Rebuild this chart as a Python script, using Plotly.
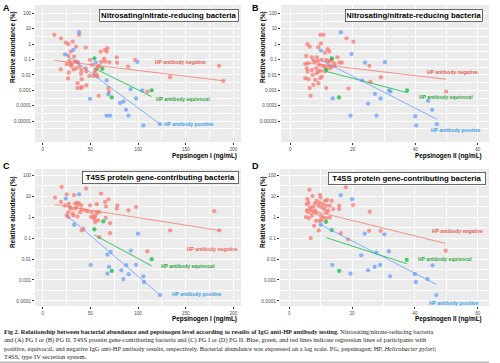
import plotly.graph_objects as go

# ---------------- data ----------------
# Panel A: Nitrosating/nitrate-reducing bacteria vs Pepsinogen I
A_neg_x = [12.2, 19.2, 24.1, 26.9, 31.5, 38.1, 35.0, 45.1, 29.4, 32.9, 26.9, 28.0, 33.6, 35.7, 37.1, 38.5,
           28.7, 30.4, 25.2, 18.9, 27.3, 29.7, 35.0, 40.6, 45.1, 40.2, 40.9, 36.7, 40.9, 36.4, 40.2, 45.8,
           26.6, 45.5, 49.7, 51.7, 49.0, 53.1, 55.2, 56.6, 58.0, 59.4, 54.5, 56.3, 60.8, 61.2, 65.4, 67.8,
           64.3, 65.4, 69.9, 67.1, 58.7, 68.9, 69.6, 77.6, 78.0, 89.5, 96.9, 109.8, 133.6, 185.0, 189.5,
           57.3, 32.2]
A_neg_y = [4.0, 2.4, 1.26, 1.0, 1.45, 4.0, 0.69, 0.60, 0.33, 0.155, 0.17, 0.085, 0.074, 0.074, 0.063, 0.035,
           0.057, 0.045, 0.05, 0.023, 0.014, 0.039, 0.027, 0.021, 0.027, 0.012, 0.0053, 0.0029, 0.0016, 0.0014,
           0.0014, 0.0021, 0.0059, 0.017, 0.095, 0.045, 0.0087, 0.0087, 0.021, 0.027, 0.035, 0.037, 0.014,
           0.010, 0.33, 0.07, 0.42, 0.54, 0.11, 0.074, 0.067, 0.33, 0.00044, 0.0014, 0.00084, 0.14, 0.063,
           0.035, 0.095, 0.00084, 0.0071, 0.039, 0.0041, 0.0079, 0.023]
A_eq_x = [54.2, 62.6, 114.3, 72.4]
A_eq_y = [0.12, 0.025, 0.001, 0.00035]
A_pos_x = [38.1, 32.2, 23.4, 55.6, 99.3, 67.1, 49.7, 68.9, 67.1, 70.6, 81.1, 84.6, 87.4, 89.9, 92.3, 97.9,
           104.5, 105.6, 123.1]
A_pos_y = [5.9, 0.42, 0.22, 0.063, 0.07, 0.0044, 0.00028, 0.00056, 2.3e-5, 2.3e-5, 0.00015, 0.00019, 5.5e-5,
           2.3e-5, 0.0012, 0.0003, 0.001, 5.3e-6, 6.4e-6]
A_neg_line_x, A_neg_line_y = [12.2, 189.5], [0.089, 0.0042]
A_eq_line_x, A_eq_line_y = [54.2, 114.3], [0.027, 0.0004]
A_pos_line_x, A_pos_line_y = [23.4, 123.1], [0.24, 6.4e-6]

# Panel B: Nitrosating/nitrate-reducing bacteria vs Pepsinogen II
B_neg_x = [5.5, 6.2, 9.6, 10.6, 9.8, 9.0, 11.1, 12.0, 12.5, 5.1, 6.9, 8.5, 4.8, 5.8, 7.4, 8.0, 9.0, 10.1,
           11.5, 11.9, 12.7, 13.3, 14.0, 15.1, 15.7, 16.5, 9.3, 10.4, 11.1, 12.2, 13.3, 14.3, 5.3, 6.9, 8.3,
           9.0, 9.8, 11.1, 12.7, 5.5, 4.8, 5.8, 7.2, 8.5, 8.0, 9.6, 10.1, 6.2, 7.4, 9.0, 11.5, 6.5, 18.0,
           20.2, 25.3, 29.0, 25.7, 18.6, 49.9]
B_neg_y = [1.0, 0.69, 4.0, 4.0, 1.1, 0.63, 0.28, 0.47, 0.33, 0.17, 0.14, 0.14, 0.052, 0.057, 0.085, 0.074,
           0.081, 0.095, 0.095, 0.074, 0.081, 0.095, 0.057, 0.14, 0.063, 0.063, 0.045, 0.039, 0.035, 0.041,
           0.035, 0.039, 0.027, 0.021, 0.027, 0.017, 0.019, 0.017, 0.027, 0.017, 0.0062, 0.0053, 0.010, 0.013,
           0.0048, 0.0062, 0.0079, 0.0014, 0.0023, 0.0029, 0.0014, 0.00044, 2.4, 1.45, 0.039, 0.0071, 0.0037,
           0.0013, 0.00084]
B_eq_x = [13.3, 11.5, 15.6, 37.4]
B_eq_y = [0.12, 0.023, 0.00035, 0.00098]
B_pos_x = [16.2, 9.8, 19.6, 23.9, 30.3, 23.0, 27.1, 28.9, 13.6, 24.9, 31.6, 32.1, 19.3, 27.6, 44.1, 45.4,
           40.0, 40.3, 46.9]
B_pos_y = [5.9, 0.38, 0.23, 0.063, 0.067, 0.0044, 0.00059, 0.0003, 0.0003, 0.00014, 0.00098, 0.00084,
           2.3e-5, 2.3e-5, 0.00021, 5.5e-5, 2.1e-5, 5.3e-6, 6.4e-6]
B_neg_line_x, B_neg_line_y = [4.8, 49.9], [0.062, 0.0053]
B_eq_line_x, B_eq_line_y = [11.5, 37.4], [0.017, 0.00072]
B_pos_line_x, B_pos_line_y = [9.8, 46.9], [0.095, 1.35e-5]

# Panel C: T4SS protein gene-contributing bacteria vs Pepsinogen I
C_neg_x = [12.9, 19.9, 19.2, 25.2, 23.4, 27.3, 28.3, 29.7, 26.9, 25.2, 31.5, 33.9, 35.7, 36.4, 38.1, 40.2,
           33.9, 40.9, 39.2, 32.2, 36.4, 26.9, 45.5, 32.9, 44.4, 46.9, 40.9, 42.7, 49.7, 51.4, 50.7, 56.6,
           56.6, 55.6, 61.2, 59.1, 54.9, 58.0, 54.2, 53.1, 65.4, 68.9, 66.4, 66.1, 70.6, 70.6, 78.3, 77.6,
           89.9, 97.9, 59.4, 109.8, 133.6, 180.0, 185.3]
C_neg_y = [8.5, 27, 5.2, 12, 3.6, 4.3, 3.0, 2.5, 1.7, 1.2, 1.45, 4.4, 3.0, 4.9, 4.4, 3.6, 2.5, 2.3, 1.7, 1.2,
           1.07, 1.0, 23, 11, 2.1, 1.9, 0.23, 0.27, 3.6, 1.7, 1.0, 4.1, 1.7, 1.2, 13, 1.7, 0.58, 0.69, 0.83,
           1.07, 5.2, 6.8, 3.2, 0.91, 0.51, 0.17, 3.6, 2.5, 2.1, 3.0, 0.11, 0.023, 0.23, 1.9, 0.23]
C_eq_x = [63.6, 54.2, 72.4, 114.3]
C_eq_y = [0.62, 0.26, 0.0027, 0.0098]
C_pos_x = [24.1, 38.1, 32.9, 100.0, 71.3, 92.3, 50.3, 69.6, 67.8, 67.8, 87.4, 82.5, 90.2, 84.6, 97.9, 105.6,
           106.3, 123.1]
C_pos_y = [7.6, 12, 0.43, 0.16, 0.022, 0.025, 0.0052, 0.0042, 0.016, 0.002, 0.0051, 0.0029, 0.0019, 0.0011,
           0.0053, 0.0015, 0.0008, 0.00019]
C_neg_line_x, C_neg_line_y = [12.9, 185.3], [3.9, 0.23]
C_eq_line_x, C_eq_line_y = [54.2, 114.3], [0.14, 0.0047]
C_pos_line_x, C_pos_line_y = [24.1, 123.1], [1.33, 0.00019]

# Panel D: T4SS protein gene-contributing bacteria vs Pepsinogen II
D_neg_x = [6.4, 7.4, 5.8, 6.1, 5.6, 6.6, 5.6, 6.1, 5.3, 7.2, 8.7, 9.8, 10.0, 9.3, 10.6, 11.4, 12.1, 11.7,
           12.9, 11.1, 12.4, 8.2, 7.5, 8.7, 10.0, 10.8, 9.6, 8.5, 9.4, 6.8, 11.7, 12.9, 14.0, 15.9, 15.9, 18.0,
           20.3, 16.4, 18.7, 25.6, 25.4, 29.1, 49.8, 7.7, 10.3, 6.8, 8.2, 11.9, 13.5, 9.6, 6.2, 10.2, 7.9]
D_neg_y = [20, 10, 7.1, 4.9, 4.1, 2.9, 2.0, 1.7, 1.0, 1.15, 5.9, 11.5, 8.5, 3.5, 4.1, 5.9, 6.5, 3.5, 3.5,
           2.4, 2.0, 2.0, 1.7, 1.5, 1.15, 0.96, 0.66, 0.66, 0.23, 0.098, 0.89, 0.96, 2.4, 3.5, 2.4, 26, 3.7,
           0.17, 0.087, 1.8, 0.22, 0.22, 0.025, 3.1, 2.9, 2.4, 4.5, 1.7, 5.9, 4.9, 0.89, 0.71, 0.38]
D_eq_x = [11.7, 13.5, 15.9, 37.4]
D_eq_y = [0.59, 0.24, 0.0027, 0.0091]
D_pos_x = [16.4, 20.0, 10.0, 24.0, 30.3, 13.7, 19.5, 22.9, 25.1, 27.2, 28.9, 27.7, 31.7, 32.1, 40.0, 40.3,
           44.0, 45.6, 46.8]
D_pos_y = [11, 7.1, 0.43, 0.16, 0.15, 0.0052, 0.002, 0.015, 0.0029, 0.0042, 0.0052, 0.020, 0.023, 0.0015,
           0.0019, 0.0008, 0.0011, 0.005, 0.00019]
D_neg_line_x, D_neg_line_y = [5.3, 49.8], [2.4, 0.055]
D_eq_line_x, D_eq_line_y = [11.7, 37.4], [0.105, 0.006]
D_pos_line_x, D_pos_line_y = [10.0, 46.8], [0.43, 0.00062]

# tick labels / text
X_TICKS_PG1 = [0, 50, 100, 150, 200]
X_TICKS_PG2 = [0, 20, 40, 60]
Y_TICKS_TOP = [100, 10, 1, 0.1, 0.01, 0.001, 0.0001, 0.00001]
Y_TICKTEXT_TOP = ["100", "10", "1", "0.1", "0.01", "0.001", "0.0001", "0.00001"]
Y_TICKS_BOT = [100, 10, 1, 0.1, 0.01, 0.001, 0.0001]
Y_TICKTEXT_BOT = ["100", "10", "1", "0.1", "0.01", "0.001", "0.0001"]
GROUP_LABELS = ["HP antibody negative", "HP antibody equivocal", "HP antibody positive"]
TITLE_NR = "Nitrosating/nitrate-reducing bacteria"
TITLE_T4 = "T4SS protein gene-contributing bacteria"
XTITLE_1 = "Pepsinogen I (ng/mL)"
XTITLE_2 = "Pepsinogen II (ng/mL)"
YTITLE = "Relative abundance (%)"
CAPTION = [
    "<b>Fig 2. Relationship between bacterial abundance and pepsinogen level according to results of IgG anti-HP antibody testing.</b> Nitrosating/nitrate-reducing bacteria",
    "and (A) PG I or (B) PG II. T4SS protein gene-contributing bacteria and (C) PG I or (D) PG II. Blue, green, and red lines indicate regression lines of participants with",
    "positive, equivocal, and negative IgG anti-HP antibody results, respectively. Bacterial abundance was expressed on a log scale. PG, pepsinogen; HP, <i>Helicobacter pylori</i>;",
    "T4SS, type IV secretion system.",
]

# ---------------- styling ----------------
W, H = 500, 363
SANS = "Liberation Sans, Arial, sans-serif"
SERIF = "Liberation Serif, Times New Roman, serif"
PT_COL = ["#F8766D", "#00BA38", "#619CFF"]
TXT_COL = ["#E5605A", "#2AA43C", "#3A9FE4"]


def fx(p):
    return p / W


def fy(p):
    return 1 - p / H


panels = [
    dict(letter="A", letter_xy=(6, 8), n=1, xdom=(35, 241), ydom=(5, 142), xr=[-8.1, 208], yr=[-6.35, 2.54],
         xt=X_TICKS_PG1, xminor=[25, 75, 125, 175], yt=Y_TICKS_TOP, ytt=Y_TICKTEXT_TOP,
         title=TITLE_NR, tbox=(239, 9, 136), xtitle=XTITLE_1, xtitle_xy=(238.5, 156), ytitle_xy=(13, 47),
         groups=[(A_neg_x, A_neg_y, A_neg_line_x, A_neg_line_y),
                 (A_eq_x, A_eq_y, A_eq_line_x, A_eq_line_y),
                 (A_pos_x, A_pos_y, A_pos_line_x, A_pos_line_y)],
         labels=[(145, -1.15), (147.6, -3.55), (153.8, -5.19)]),
    dict(letter="B", letter_xy=(255, 8), n=2, xdom=(281, 489), ydom=(5, 142), xr=[-2.96, 63.6], yr=[-6.35, 2.54],
         xt=X_TICKS_PG2, xminor=[10, 30, 50], yt=Y_TICKS_TOP, ytt=Y_TICKTEXT_TOP,
         title=TITLE_NR, tbox=(483, 9, 134), xtitle=XTITLE_2, xtitle_xy=(484, 156), ytitle_xy=(263, 47),
         groups=[(B_neg_x, B_neg_y, B_neg_line_x, B_neg_line_y),
                 (B_eq_x, B_eq_y, B_eq_line_x, B_eq_line_y),
                 (B_pos_x, B_pos_y, B_pos_line_x, B_pos_line_y)],
         labels=[(52, -1.80), (49.9, -3.40), (53.1, -5.56)]),
    dict(letter="C", letter_xy=(6, 166), n=3, xdom=(35, 241), ydom=(169, 306), xr=[-8.1, 208], yr=[-4.24, 2.29],
         xt=X_TICKS_PG1, xminor=[25, 75, 125, 175], yt=Y_TICKS_BOT, ytt=Y_TICKTEXT_BOT,
         title=TITLE_T4, tbox=(239, 171, 153), xtitle=XTITLE_1, xtitle_xy=(238.5, 319), ytitle_xy=(13, 212),
         groups=[(C_neg_x, C_neg_y, C_neg_line_x, C_neg_line_y),
                 (C_eq_x, C_eq_y, C_eq_line_x, C_eq_line_y),
                 (C_pos_x, C_pos_y, C_pos_line_x, C_pos_line_y)],
         labels=[(178.3, -1.53), (152.8, -2.33), (161.5, -3.66)]),
    dict(letter="D", letter_xy=(255, 166), n=4, xdom=(280, 489), ydom=(169, 306), xr=[-2.96, 63.6], yr=[-4.24, 2.29],
         xt=X_TICKS_PG2, xminor=[10, 30, 50], yt=Y_TICKS_BOT, ytt=Y_TICKTEXT_BOT,
         title=TITLE_T4, tbox=(486, 172, 154), xtitle=XTITLE_2, xtitle_xy=(484, 319), ytitle_xy=(263, 212),
         groups=[(D_neg_x, D_neg_y, D_neg_line_x, D_neg_line_y),
                 (D_eq_x, D_eq_y, D_eq_line_x, D_eq_line_y),
                 (D_pos_x, D_pos_y, D_pos_line_x, D_pos_line_y)],
         labels=[(53.5, -0.66), (49.5, -1.98), (52.4, -4.11)]),
]

fig = go.Figure()
annotations = []
layout = {}

for p in panels:
    n = p["n"]
    xa = "x" if n == 1 else f"x{n}"
    ya = "y" if n == 1 else f"y{n}"
    for gi, (gx, gy, lx, ly) in enumerate(p["groups"]):
        fig.add_trace(go.Scatter(x=gx, y=gy, mode="markers", xaxis=xa, yaxis=ya, showlegend=False,
                                 marker=dict(size=4.3, color=PT_COL[gi], opacity=0.72, line=dict(width=0)),
                                 hoverinfo="skip"))
    for gi, (gx, gy, lx, ly) in enumerate(p["groups"]):
        fig.add_trace(go.Scatter(x=lx, y=ly, mode="lines", xaxis=xa, yaxis=ya, showlegend=False,
                                 line=dict(color=PT_COL[gi], width=0.9), opacity=0.85, hoverinfo="skip"))

    minor_y = [10 ** (k + 0.5) for k in range(-8, 3)]
    layout["xaxis" if n == 1 else f"xaxis{n}"] = dict(
        domain=[fx(p["xdom"][0]), fx(p["xdom"][1])], range=p["xr"], anchor=ya,
        tickmode="array", tickvals=p["xt"], ticktext=[str(v) for v in p["xt"]],
        showgrid=True, gridcolor="white", gridwidth=0.9, zeroline=False, showline=False,
        ticks="outside", ticklen=2, tickwidth=0.7, tickcolor="#333333",
        tickfont=dict(family=SANS, size=4.6, color="#4D4D4D"),
        minor=dict(tickmode="array", tickvals=p["xminor"], showgrid=True, gridcolor="white", gridwidth=0.45),
    )
    layout["yaxis" if n == 1 else f"yaxis{n}"] = dict(
        domain=[fy(p["ydom"][1]), fy(p["ydom"][0])], range=p["yr"], type="log", anchor=xa,
        tickmode="array", tickvals=p["yt"], ticktext=p["ytt"],
        showgrid=True, gridcolor="white", gridwidth=0.9, zeroline=False, showline=False,
        ticks="outside", ticklen=2, tickwidth=0.7, tickcolor="#333333",
        tickfont=dict(family=SANS, size=4.8, color="#4D4D4D"),
        minor=dict(tickmode="array", tickvals=minor_y, showgrid=True, gridcolor="white", gridwidth=0.45),
    )

    for gi, (lxv, lyv) in enumerate(p["labels"]):
        annotations.append(dict(x=lxv, y=lyv, xref=xa, yref=ya, text=f"<b>{GROUP_LABELS[gi]}</b>",
                                showarrow=False, xanchor="center", yanchor="middle",
                                font=dict(family=SANS, size=5, color=TXT_COL[gi])))
    bx, by, bw = p["tbox"]
    annotations.append(dict(x=fx(bx), y=fy(by), xref="paper", yref="paper", xanchor="right", yanchor="top",
                            text=f"<b>{p['title']}</b>", showarrow=False, width=bw, align="center",
                            font=dict(family=SANS, size=7.8, color="black"),
                            bgcolor="white", bordercolor="#444444", borderwidth=0.8, borderpad=1))
    lx0, ly0 = p["letter_xy"]
    annotations.append(dict(x=fx(lx0), y=fy(ly0), xref="paper", yref="paper", xanchor="center", yanchor="middle",
                            text=f"<b>{p['letter']}</b>", showarrow=False,
                            font=dict(family=SANS, size=9, color="black")))
    tx, ty = p["xtitle_xy"]
    annotations.append(dict(x=fx(tx), y=fy(ty), xref="paper", yref="paper", xanchor="right", yanchor="middle",
                            text=f"<b>{p['xtitle']}</b>", showarrow=False,
                            font=dict(family=SANS, size=6.4, color="black")))
    yx, yy = p["ytitle_xy"]
    annotations.append(dict(x=fx(yx), y=fy(yy), xref="paper", yref="paper", xanchor="center", yanchor="middle",
                            text=f"<b>{YTITLE}</b>", showarrow=False, textangle=-90,
                            font=dict(family=SANS, size=6.4, color="black")))

cap_y = [331, 339.5, 348, 356.5]
for line, cy in zip(CAPTION, cap_y):
    annotations.append(dict(x=fx(2), y=fy(cy), xref="paper", yref="paper", xanchor="left", yanchor="middle",
                            text=line, showarrow=False, align="left",
                            font=dict(family=SERIF, size=6.4, color="#222222")))

fig.update_layout(
    width=W, height=H, margin=dict(l=0, r=0, t=0, b=0),
    paper_bgcolor="white", plot_bgcolor="#EBEBEB",
    annotations=annotations,
    shapes=[dict(type="rect", xref="paper", yref="paper", x0=0, x1=fx(489), y0=fy(363), y1=fy(361.5),
                 fillcolor="#BBBBBB", line=dict(width=0))],
    **layout,
)

fig.write_html("out.html", config={"displayModeBar": False},
               post_script="document.body.style.margin='0px';document.body.style.overflow='hidden';")
